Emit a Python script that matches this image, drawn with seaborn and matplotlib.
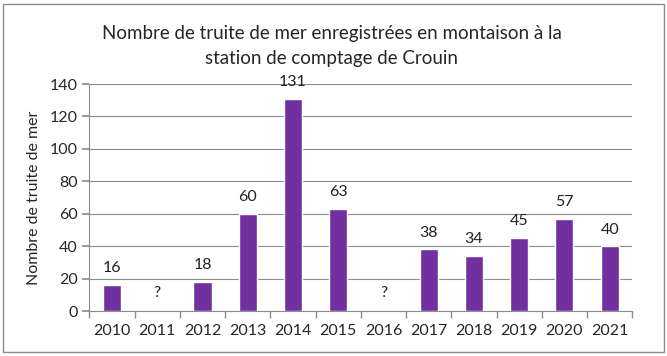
import numpy as np
import pandas as pd
import matplotlib
matplotlib.use("Agg")
import matplotlib.pyplot as plt
import seaborn as sns
from matplotlib.patches import Rectangle

# Data
years = ["2010", "2011", "2012", "2013", "2014", "2015", "2016", "2017", "2018", "2019", "2020", "2021"]
counts = [16, np.nan, 18, 60, 131, 63, np.nan, 38, 34, 45, 57, 40]
labels = ["16", "?", "18", "60", "131", "63", "?", "38", "34", "45", "57", "40"]

df = pd.DataFrame({"annee": years, "nombre": counts})

sns.set_theme(style="white")
plt.rcParams['font.family'] = ['Lato', 'DejaVu Sans']

fig = plt.figure(figsize=(6.67, 3.56), dpi=100)
ax = fig.add_axes([0.134, 0.126, 0.814, 0.638])

sns.barplot(data=df, x="annee", y="nombre", color="#7030A0", width=0.4,
            saturation=1, ax=ax, zorder=3)

# data labels above bars ("?" for missing years)
for i, (v, lab) in enumerate(zip(counts, labels)):
    y = 7 if np.isnan(v) else v + 6
    ax.text(i, y, lab, ha="center", va="bottom", fontsize=11.5, color="#222222")

ax.set_ylim(0, 140)
ax.set_yticks(range(0, 141, 20))
ax.set_xlim(-0.5, len(years) - 0.5)
ax.yaxis.grid(True, color="#8c8c8c", linewidth=0.8, zorder=0)
ax.set_axisbelow(True)

# ticks between categories
ax.set_xticks(np.arange(-0.5, len(years), 1), minor=True)
ax.tick_params(axis="x", which="major", length=0, labelsize=11.5, pad=9)
ax.tick_params(axis="x", which="minor", length=5, color="#8c8c8c", direction="out", bottom=True)
ax.tick_params(axis="y", labelsize=11.5, length=5, color="#8c8c8c", left=True, direction="out")

for s in ["top", "right"]:
    ax.spines[s].set_visible(False)
for s in ["left", "bottom"]:
    ax.spines[s].set_color("#8c8c8c")
    ax.spines[s].set_linewidth(0.8)

ax.set_xlabel("")
ax.set_ylabel("Nombre de truite de mer", fontsize=11.5, labelpad=6)

fig.text(0.497, 0.907, "Nombre de truite de mer enregistrées en montaison à la",
         ha="center", va="center", fontsize=13.5)
fig.text(0.497, 0.837, "station de comptage de Crouin",
         ha="center", va="center", fontsize=13.5)

# chart border
fig.patches.append(Rectangle((0.005, 0.01), 0.99, 0.98, transform=fig.transFigure,
                             fill=False, edgecolor="#8c8c8c", linewidth=1))

fig.savefig("out.png", dpi=100)
